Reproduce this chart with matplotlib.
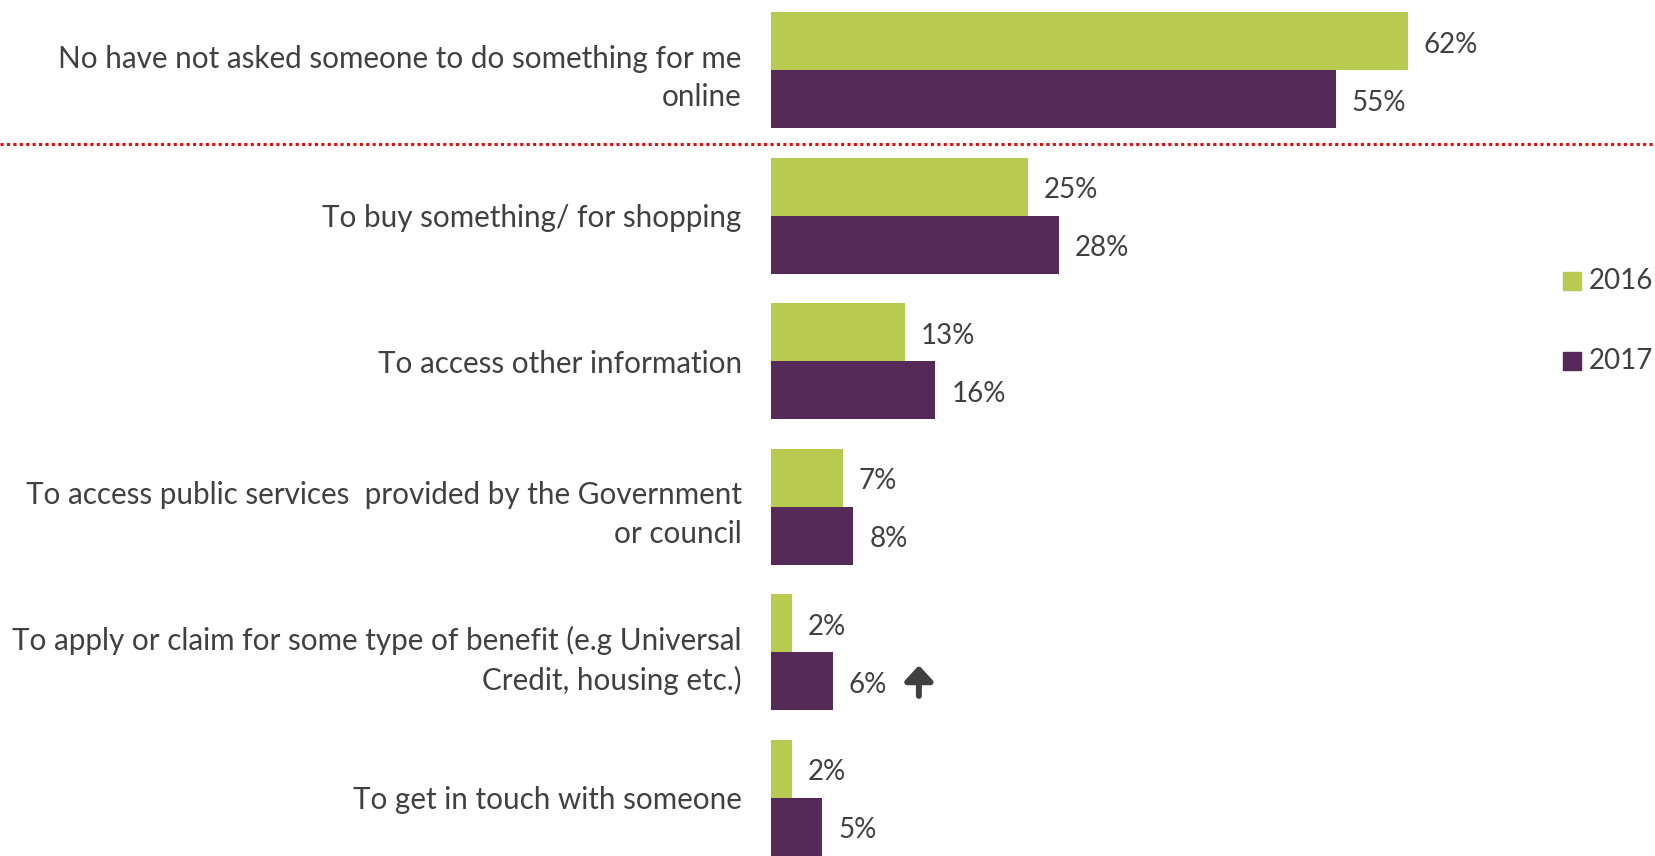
import matplotlib.pyplot as plt
from matplotlib.transforms import blended_transform_factory
from matplotlib.patches import Rectangle

# data
categories = [
    "No have not asked someone to do something for me\nonline",
    "To buy something/ for shopping",
    "To access other information",
    "To access public services  provided by the Government\nor council",
    "To apply or claim for some type of benefit (e.g Universal\nCredit, housing etc.)",
    "To get in touch with someone",
]
values_2016 = [62, 25, 13, 7, 2, 2]
values_2017 = [55, 28, 16, 8, 6, 5]
years = ["2016", "2017"]

GREEN = "#b8ca4f"
PURPLE = "#552a59"
TEXT = "#404040"

plt.rcParams['font.family'] = ['Lato', 'DejaVu Sans']

fig = plt.figure(figsize=(16.55, 8.56), dpi=100)
W, H = 1655, 856
ax = fig.add_axes([771 / W, 0, (W - 771) / W, 1])

y = list(range(len(categories)))
h = 0.4
b16 = ax.barh([i - h / 2 for i in y], values_2016, height=h, color=GREEN)
b17 = ax.barh([i + h / 2 for i in y], values_2017, height=h, color=PURPLE)

ax.set_xlim(0, (W - 771) / 10.27)
ax.set_ylim(5.4, -0.4 - 12 / 145.6)

# value labels, a bit below bar centre like the original
for bars, vals in ((b16, values_2016), (b17, values_2017)):
    for rect, v in zip(bars, vals):
        ax.annotate(f"{v}%", xy=(v, rect.get_y() + rect.get_height() / 2),
                    xytext=(11.5, -2.5), textcoords='offset points',
                    ha='left', va='center', fontsize=20, color=TEXT)

# category labels on the left
ax.set_yticks(y)
ax.set_yticklabels(categories, fontsize=21.3, color=TEXT, linespacing=1.45)
ax.tick_params(axis='y', length=0, pad=21)
ax.set_xticks([])
for s in ax.spines.values():
    s.set_visible(False)

# red dotted separator across the whole width
tr = blended_transform_factory(fig.transFigure, ax.transData)
ax.plot([0, 1], [0.51, 0.51], transform=tr, color="#e00c0c", lw=2.2,
        linestyle=(0, (1, 1.1)), dash_capstyle='butt', clip_on=False)

# significance arrow next to the 6% bar
ax.annotate("", xy=(14.4, 4.09), xytext=(14.4, 4.30),
            arrowprops=dict(arrowstyle="-|>,head_width=0.42,head_length=0.45",
                            mutation_scale=20, color=TEXT, lw=4.3,
                            shrinkA=0, shrinkB=0))

# legend
for yr, col, yp in zip(years, [GREEN, PURPLE], [281, 361]):
    fig.patches.append(Rectangle((1563 / W, 1 - (yp + 9) / H), 18 / W, 18 / H,
                                 transform=fig.transFigure, color=col))
    fig.text(1589 / W, 1 - yp / H, yr, fontsize=20, color=TEXT, va='center')

fig.savefig("out.png", dpi=100)
